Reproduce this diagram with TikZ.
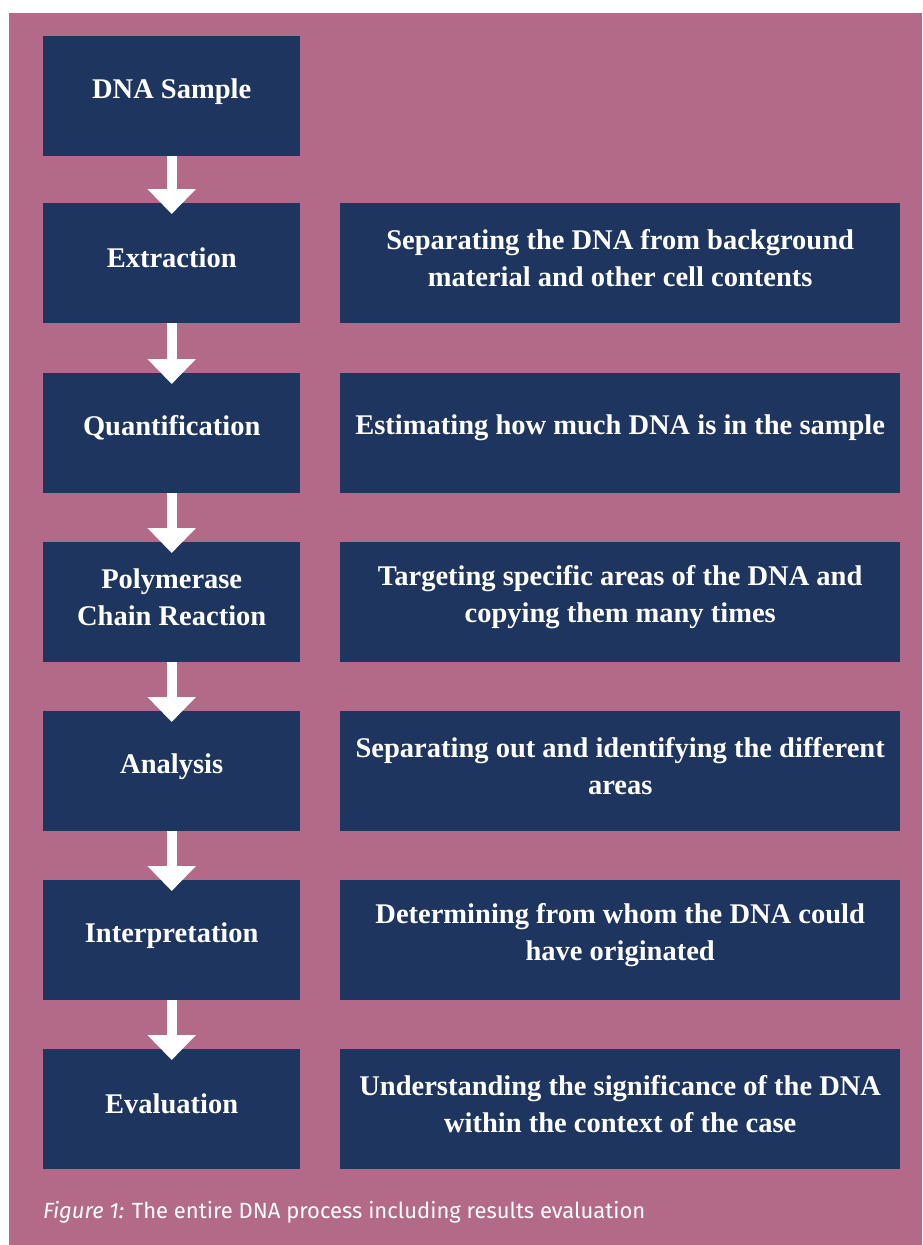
\documentclass[tikz,border=0pt]{standalone}
\usepackage{fontspec}
\setmainfont{Liberation Serif}
\newfontfamily\capfont{Fira Sans}
\usetikzlibrary{arrows.meta,calc}
\definecolor{bgpink}{HTML}{B36A89}
\definecolor{navy}{HTML}{1E3560}
\tikzset{
  stepbox/.style={fill=navy, minimum width=257pt, minimum height=120pt,
    inner sep=0pt, anchor=north west,
    label={[text=white, align=center, inner sep=0pt, yshift=5pt,
      font=\fontsize{28.5}{37}\selectfont\bfseries]center:#1}},
  descbox/.style={stepbox=#1, minimum width=560pt},
  flowarrow/.style={draw=white, line width=10pt,
    -{Triangle[width=47pt,length=25pt]}}
}
\begin{document}
\begin{tikzpicture}[x=1pt,y=-1pt]
\useasboundingbox (0,0) rectangle (922,1245);
\fill[white] (0,0) rectangle (922,1245);
\fill[bgpink] (9,13) rectangle (922,1245);
\node[stepbox={DNA Sample}] (s1) at (43,36) {};
\node[stepbox={Extraction}] (s2) at (43,203) {};
\node[stepbox={Quantification}] (s3) at (43,373) {};
\node[stepbox={Polymerase\\Chain Reaction}] (s4) at (43,542) {};
\node[stepbox={Analysis}] (s5) at (43,711) {};
\node[stepbox={Interpretation}] (s6) at (43,880) {};
\node[stepbox={Evaluation}] (s7) at (43,1049) {};
\node[descbox={Separating the DNA from background\\material and other cell contents}] (d2) at (340,203) {};
\node[descbox={Estimating how much DNA is in the sample}] (d3) at (340,373) {};
\node[descbox={Targeting specific areas of the DNA and\\copying them many times}] (d4) at (340,542) {};
\node[descbox={Separating out and identifying the different\\areas}] (d5) at (340,711) {};
\node[descbox={Determining from whom the DNA could\\have originated}] (d6) at (340,880) {};
\node[descbox={Understanding the significance of the DNA\\within the context of the case}] (d7) at (340,1049) {};
\foreach \a/\b in {s1/s2,s2/s3,s3/s4,s4/s5,s5/s6,s6/s7}
  \draw[flowarrow] (\a.south) -- ($(\b.north)+(0,11)$);
\node[anchor=base west, inner sep=0pt, text=white, font=\capfont\fontsize{22}{26}\selectfont] (cap) at (43,1218) {\textit{Figure 1:} The entire DNA process including results evaluation};
\end{tikzpicture}
\end{document}
